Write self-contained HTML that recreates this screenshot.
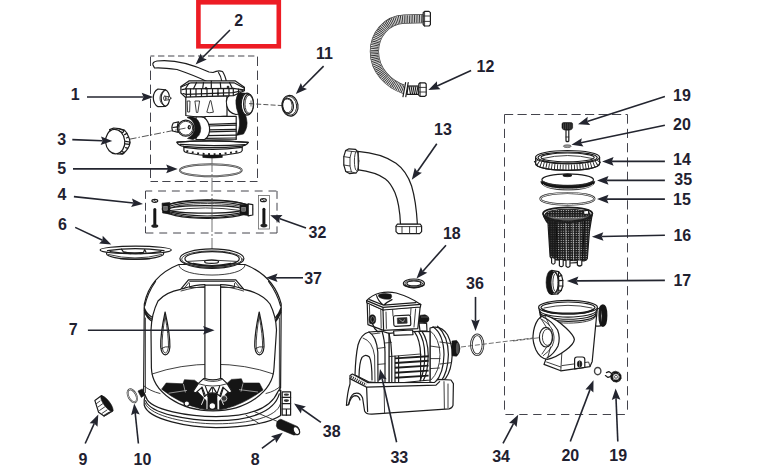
<!DOCTYPE html>
<html><head><meta charset="utf-8"><title>Parts diagram</title>
<style>
html,body{margin:0;padding:0;background:#fff;}
svg{display:block}
.lb{font-family:"Liberation Sans",sans-serif;font-weight:bold;font-size:16px;fill:#1f2130;}
.k{stroke:#1c1c1c;fill:none;stroke-width:1.2;stroke-linecap:round;stroke-linejoin:round}
.kw{stroke:#1c1c1c;fill:#fff;stroke-width:1.2;stroke-linecap:round;stroke-linejoin:round}
.t{stroke:#2a2a2a;fill:none;stroke-width:0.9;stroke-linecap:round;stroke-linejoin:round}
.tw{stroke:#2a2a2a;fill:#fff;stroke-width:0.9;stroke-linecap:round;stroke-linejoin:round}
.b{fill:#151515;stroke:#151515;stroke-width:0.6;stroke-linejoin:round}
.g{stroke:#777;fill:none;stroke-width:0.8}
</style></head>
<body>
<svg width="763" height="476" viewBox="0 0 763 476">
<rect width="763" height="476" fill="#fff"/>
<!-- ===== centre dash-dot axis (valve/tank) ===== -->
<path d="M212 158 V250" stroke="#505050" stroke-width="0.8" stroke-dasharray="14 2 2 2" fill="none"/>

<!-- ===== VALVE (parts 2) ===== -->
<g id="valve">
 <!-- handle -->
 <path class="kw" stroke-width="1.1" d="M153 65 Q152 62 157 61 C175 59 196 66 209 72 L213 72.5 Q218 70 222.5 71.5 Q225 75 226.5 82 L208 82 Q196 76 177 69.5 Q163 67.5 154.5 68 Z"/>
 <path class="k" d="M218.5 72.5 Q221 76 222 82"/>
 <!-- upper body -->
 <path class="kw" d="M185.8 96 V115.5 Q196 118 227 116 V96 Z"/>
 <path class="tw" stroke-width="0.9" d="M187.6 101 L190 101 L189.6 112 L188 112 Z M195.3 101 L199.6 101 L197.8 112.5 L196.8 112.5 Z M210 101 L206.8 112.2 Q208.5 113.3 213.4 112.2 L211 101 Z"/>
 <!-- right port body -->
 <path class="kw" d="M233 93.2 Q224.5 96 226.8 106 Q228.5 113 236 114.5 L246 113 L246 93.5 Z"/>
 <!-- S gasket -->
 <path class="b" d="M238 93.5 Q234.5 100 236.5 108 Q239 114.5 239.5 121 Q240 130 236 135.5 L243.5 134 Q248.5 127 246.5 118.5 Q244 110 242.5 103 Q242 97 244.5 93 Z"/>
 <!-- right port pipe end -->
 <ellipse class="kw" cx="247" cy="104.2" rx="5.8" ry="11"/>
 <ellipse class="kw" cx="248.6" cy="104.2" rx="5" ry="10" />
 <ellipse class="t" cx="249.2" cy="104.2" rx="4.2" ry="9" />
 <!-- lid -->
 <path class="kw" stroke-width="1.8" d="M188.9 80.9 L235.4 80.9 L244.4 87.2 L244.4 90.8 L233.5 95.6 L185.2 97.1 L180.9 93 L180.9 86.6 Z"/>
 <path class="k" stroke-width="1.4" d="M181 87 L191 82.8 L234 82.8 L244 88"/>
 <path class="k" stroke-width="1.9" d="M182 89.7 L186 88.9 L233 88.4 L244 89.8"/>
 <path class="k" stroke-width="1.3" d="M183 93.5 L186 94.3 L233 92.7 L243 90.5"/>
 <path class="k" stroke-width="1.2" d="M196.5 82.5 L193.5 88.7 M203.5 82.5 L202.7 88.5 M211.3 81 L211.3 88.5 M220.3 82.5 L220.8 88.5 M229.5 82.5 L232.3 88.3 M189 83 L185.5 88.7"/>
 <path class="k" stroke-width="1" d="M186.3 89 V96.8 M190.5 89 V96.6 M196 89 V96.4 M201.5 89 V96.2 M207 88.8 V96 M212.5 88.8 V95.9 M218 88.8 V95.8 M223.5 88.6 V95.7 M229 88.5 V95.6 M233.3 88.3 V95.5 M238.5 89 V93.4"/>
 <circle class="b" cx="206" cy="88.2" r="1"/><circle class="b" cx="228" cy="87" r="1"/><circle class="b" cx="218" cy="93.5" r="0.8"/>
 <!-- lower ribbed body -->
 <path class="kw" d="M205 116.5 L236.2 116.3 L236.2 139.5 L203 140 Z"/>
 <path class="k" stroke-width="1.2" d="M209 124.3 L236.2 123.3 M209 126 L236.2 125.1 M208.5 129.8 L236 129.3 M208.5 131.8 L236 131.2 M207 135.6 L236 135.2 M205 138.3 L236 138"/>
 <!-- front-left port -->
 <path class="kw" d="M200 117 Q207 116 209.5 127 Q210.5 136 204.5 139.5 L196 139.5 L196 117 Z"/>
 <path class="b" d="M190.5 116.6 Q199.5 117.5 200.8 128 Q200.8 137 193 139.6 L187.5 138.5 Q195 134 194.6 127.5 Q194 119.5 187 117.5 Z"/>
 <circle class="kw" cx="185.8" cy="128.2" r="8"/>
 <circle class="t" cx="185.8" cy="128.2" r="6.9"/>
 <path class="kw" d="M178.6 121.8 L173.3 123 Q171 126.5 172.6 131 L178.3 132.3 Q176.2 127 178.6 121.8 Z"/>
 <path class="k" d="M173 127.5 L177.5 126.9"/>
 <ellipse class="k" cx="189.3" cy="127.3" rx="1" ry="1.6"/>
 <!-- flange -->
 <path class="kw" stroke-width="1.1" d="M183.9 144 V150.6 Q184.4 152.2 188 153 Q212 158.2 238 153 Q241.6 152.2 242.2 150.6 V144 Z"/>
 <path class="kw" stroke-width="1.2" d="M176.8 142.2 Q212 139.4 248.4 142.4 Q246 145.8 240 146.4 Q212 148.8 184 146.4 Q178.6 145.8 176.8 142.2 Z"/>
 <path class="k" stroke-width="2.2" d="M177.2 142.2 Q212 139.6 248 142.4"/>
 <path class="k" stroke-width="1.2" d="M180 144.4 Q212 146.6 245 144.6"/>
 <path class="k" stroke-width="1.3" d="M184 147.4 Q212 151.4 242 147.4"/>
 <path d="M186.4 151 Q212 157.4 239.8 151" fill="none" stroke="#1c1c1c" stroke-width="2" stroke-dasharray="1.9 3.6" stroke-linecap="butt"/>
 <path class="b" d="M202.8 155.2 H222.3 V157.4 Q212 158.8 202.8 157.4 Z"/>
</g>

<!-- dashed lines from valve to parts 3, 11 -->
<path d="M129.6 139.2 L189 127.4" stroke="#2a2a2a" stroke-width="0.8" stroke-dasharray="7 2 1.5 2" fill="none"/>
<path d="M249 103.6 L282 105.6" stroke="#2a2a2a" stroke-width="0.8" stroke-dasharray="5 2.2" fill="none"/>
<path d="M251 100.5 V106.5" stroke="#333" stroke-width="0.7"/>

<!-- ===== part 1 plug ===== -->
<g id="p1">
 <path class="kw" stroke-width="1.1" d="M158 89 L165.5 89.8 Q169.5 92 169.5 98.2 Q169.5 104.6 165.3 106.4 L158 106.7 Q153.3 104 153.3 97.8 Q153.3 91.6 158 89 Z"/>
 <path class="k" stroke-width="1" d="M165.4 89.9 Q161.2 92 161.2 98.1 Q161.2 104 165.2 106.3"/>
 <path class="t" d="M164.6 90.4 Q160 93 160 98.1 Q160 103.4 164.4 105.9"/>
 <ellipse class="t" cx="164.8" cy="98.2" rx="1.2" ry="2.1"/>
 <path class="t" d="M164.8 96.1 L169 96.8 M164.8 100.3 L169 99.7"/>
 <circle class="tw" cx="169.5" cy="98.2" r="1.4"/>
</g>

<!-- ===== part 3 cap ===== -->
<g id="p3">
 <path class="kw" stroke-width="1.2" d="M109.6 129.6 L113.6 128 L119 128.6 L124.4 130 L126.8 133 L128.4 136.4 L129.6 139.6 L130 142.6 L129.2 146 L127.6 148.8 L125.4 151.6 L122 154.2 L117 153.8 Z"/>
 <path class="k" stroke-width="1" d="M112.6 128.6 L114 130.2 M119.6 129 L124.2 130.6 L122.6 132.8 L118.8 130.8 M126.8 133.4 L124.6 134.6 M128.6 137 L126.4 138 M125.6 141.4 L129.8 142 L129.4 144.4 L125.2 143.8 M127.8 148.4 L125.6 147.6 M122 151.6 L124.6 152.6 L122.8 154 L120.6 153.2"/>
 <ellipse class="kw" stroke-width="1.2" cx="115.2" cy="141.6" rx="9.6" ry="12.2" transform="rotate(-5 115.2 141.6)"/>
</g>

<!-- ===== part 5 o-ring ===== -->
<ellipse cx="210.8" cy="170.2" rx="31" ry="6" fill="none" stroke="#3c3c3c" stroke-width="1.9"/>
<ellipse cx="210.8" cy="170.2" rx="31" ry="6" fill="none" stroke="#fff" stroke-width="0.5"/>

<!-- ===== part 11 ring ===== -->
<g id="p11">
 <ellipse class="kw" cx="290" cy="105.8" rx="8" ry="10.4" transform="rotate(-8 290 105.8)"/>
 <ellipse class="t" cx="289.6" cy="105.8" rx="7" ry="9.4" transform="rotate(-8 289.6 105.8)"/>
 <ellipse class="k" cx="288" cy="105.8" rx="5.4" ry="7.6" transform="rotate(-8 288 105.8)"/>
 <path class="t" d="M283.6 100 Q288 97.5 291 101 Q293 105 291.6 110 Q289 114 285.6 112.6"/>
</g>

<!-- ===== clamp (4) + bolts (32) ===== -->
<g id="clamp">
 <ellipse class="kw" stroke-width="1.3" cx="207.4" cy="209.1" rx="45.2" ry="9.2"/>
 <path class="k" stroke-width="1.3" d="M163.6 208.6 C166 197.6 249 197.6 251.4 208.6"/>
 <path class="k" stroke-width="1.2" d="M165.4 209.2 C169 199.6 246 199.6 249.6 209.2"/>
 <path class="t" d="M167 209.8 C172 201.4 243 201.4 248 209.8"/>
 <ellipse class="kw" stroke-width="1.2" cx="205.6" cy="209.4" rx="36.4" ry="3.8"/>
 <path class="t" stroke-width="0.7" d="M171 210.4 Q205.6 205.4 240 210.4"/>
 <path class="k" stroke-width="1" d="M167 211.4 Q207 220.6 248 211.4"/>
 <path class="k" stroke-width="1.2" d="M165 212 Q207 223.4 250 212"/>
 <path class="b" d="M162 203.2 L169.8 202.4 L169.8 214 L162.6 213 Z"/>
 <rect x="163.8" y="206.6" width="3.4" height="3.6" fill="#666" stroke="#bbb" stroke-width="0.5"/>
 <path class="b" d="M240 204.8 L248.4 204 L248.4 215.6 L240 214.4 Z"/>
 <rect x="241.8" y="207.4" width="3.6" height="3.8" fill="#666" stroke="#bbb" stroke-width="0.5"/>
 <path class="kw" stroke-width="1.2" d="M248.2 203.8 L252.8 204.6 L252.8 215 L248.2 215.8 Z"/>
 <path d="M212 198.6 V219.6" stroke="#505050" stroke-width="0.8" fill="none"/>
 <!-- bolts -->
 <path d="M154.8 209.6 V225" stroke="#151515" stroke-width="3" stroke-linecap="round"/>
 <ellipse cx="154.8" cy="226" rx="3.5" ry="1.8" fill="#222"/>
 <ellipse class="kw" stroke-width="0.9" cx="154.8" cy="200.8" rx="2.9" ry="1.5"/>
 <path class="t" d="M153.6 200 L156 201.6"/>
 <path d="M263.9 209.2 V224.6" stroke="#151515" stroke-width="3" stroke-linecap="round"/>
 <ellipse cx="263.9" cy="225.6" rx="3.5" ry="1.8" fill="#222"/>
 <ellipse class="kw" stroke-width="0.9" cx="263.4" cy="200.2" rx="2.9" ry="1.5"/>
 <path class="t" d="M262.2 199.4 L264.6 201"/>
</g>

<!-- ===== disc (6) ===== -->
<g id="disc6">
 <ellipse class="kw" stroke-width="1.2" cx="135.1" cy="253.6" rx="28.6" ry="5.6"/>
 <path class="t" d="M108.5 254.5 Q135 261.5 161.5 254.5"/>
 <path class="k" stroke-width="1.3" d="M120 258.6 Q135 260.2 150 258.6"/>
 <ellipse class="kw" stroke-width="1.5" cx="135.7" cy="250" rx="35.6" ry="3.9"/>
 <path class="k" stroke-width="1.1" d="M107.5 250.6 Q135 246.6 164 250.6 M110 251.6 Q120 253.3 131 253.6 M140 253.6 Q152 253.3 161 251.6"/>
 <path class="k" stroke-width="1.2" d="M121.4 249.2 L123.4 251.8 Q133 254 143.5 252.4 L144.6 249.6 L146 252.2"/>
 <path class="k" stroke-width="1.6" d="M124 252.3 Q133 253.8 142 252.6"/>
</g>

<!-- ===== TANK (37) ===== -->
<g id="tank">
 <!-- base -->
 <path class="kw" stroke-width="1.1" d="M144.2 400 L144.2 405 C148 420 190 427.6 216 427.6 C250 427.6 272 421.4 280.6 415.4 L280.6 390 L146 392 Z"/>
 <path class="t" d="M145 403 C150 417 190 423.8 216 423.8 C250 423.8 277 417 280.4 404"/>
 <path class="k" stroke-width="1" d="M145.6 400.6 C150 414 190 420.6 216 420.6 C248 420.6 274 413 279.3 393.9"/>
 <path class="k" stroke-width="1" d="M280.6 390 V415.4"/>
 <path class="t" d="M235.2 403.4 L278 421.7 M246 415.2 L259 423.5"/>
 <!-- outer body -->
 <path class="kw" d="M178.8 264.5 Q150 276 144.3 304 L143.6 392 L146.4 398 C150 410 190 416.6 216 416.6 C245 416.6 270 410 278 391.4 L280.6 388 L281.2 304 Q274 276 245 264.5 Z"/>
 <path class="t" d="M145.4 318 V392.5"/>
 <path class="t" d="M279.4 318 V391"/>
 <!-- shoulder ellipse -->
 <path class="t" d="M178.8 264.8 C179 278.6 245 278.6 245.1 264.8"/>
 <!-- cutaway inner outline -->
 <path class="kw" d="M180.6 289.4 L188.5 279.8 H235.8 L243.8 289.4 Q262 293 270 304 Q276 316 276.5 330 L274 368 C273 392 246 410.8 213 410.8 C180 410.8 152 392 151.4 368 L151 330 Q151.5 314 158 301 Q166 292 180.6 289.4 Z"/>
 <path class="t" d="M183.6 289 L189.8 281.4 H234.5 L240.8 289"/>
 <path class="k" d="M181.8 288.8 Q196 284.6 204.9 284.6 M220.5 284.6 Q230 284.6 242.9 288.8"/>
 <path class="t" d="M181 291 Q196 286.8 204.9 286.6 M220.5 286.6 Q230 286.8 243.6 291"/>
 <path class="t" d="M189.5 283.5 V287.5 H204.9 M220.5 287.5 H234.5 V283.5"/>
 <!-- cut edge bands -->
 <path class="k" d="M144.3 308 Q147 314.5 152.5 317.5 M144.3 310 Q147 316.5 152 319.3 M144.5 312 Q147 318 151.6 321"/>
 <path class="k" d="M281 308 Q278.5 314.5 275.6 317.5 M281 310 Q278.5 316.5 276 319.3 M281 312 Q278.5 318 276.2 321"/>
 <path class="k" stroke-width="1.5" d="M155.5 281.5 Q147.5 293 144.8 306 M268.6 281.5 Q277 293 280.6 306"/>
 <!-- slots -->
 <path class="kw" stroke-width="1" d="M165.1 312 Q160.2 335 160.7 347 Q161.6 354.6 165.3 354.9 Q169.2 354.6 169.9 347 Q170.2 335 165.1 312 Z"/>
 <path class="t" stroke-width="0.8" d="M165.1 316 Q161.8 336 162.1 347 Q162.8 352.8 165.3 353 Q167.9 352.8 168.5 347 Q168.7 336 165.1 316"/>
 <path class="t" stroke-width="0.8" d="M161.2 348.6 Q165.0 346 169.5 346.8"/>
 <path class="kw" stroke-width="1" d="M259.2 312 Q254.3 335 254.8 347 Q255.7 354.6 259.4 354.9 Q263.3 354.6 264.0 347 Q264.3 335 259.2 312 Z"/>
 <path class="t" stroke-width="0.8" d="M259.2 316 Q255.9 336 256.2 347 Q256.9 352.8 259.4 353 Q262.0 352.8 262.6 347 Q262.8 336 259.2 316"/>
 <path class="t" stroke-width="0.8" d="M255.3 348.6 Q259.1 346 263.6 346.8"/>
 <!-- water line -->
 <path class="t" d="M152 374 Q180 364.2 212.9 364.2 Q246 364.2 273.6 374"/>
 <path class="t" d="M144 386 Q150 391 160 393.5 M280.5 386 Q276 391 266 393.5"/>
 <!-- laterals (black) -->
 <g class="b">
  <path d="M166.2 383 L183 383.8 L184.4 379.7 L194.6 380.2 L199.4 384 L197 391 L202 396 L206.5 401 L206.5 409.6 L200 408.6 Q180 403.6 161.6 389.2 Z"/>
  <path d="M259.4 383 L243 383 L241.4 378.8 L231.4 379.4 L226.4 384 L228.6 391 L224 396 L219.4 401 L219.4 409.6 L226 408.6 Q244 404 263 390 Z"/>
  <path d="M207.6 394 Q212.3 391.6 217 394 L217.6 409.4 L207 409.4 Z"/>
 </g>
 <!-- hub cone + spokes (white) -->
 <path class="kw" stroke-width="1" d="M203.6 378.6 L198.4 383.4 L193 391.6 L195.6 393 L201.6 387.6 L204.4 396.6 L207.6 394 Q212.3 391.8 217 394 L220.6 396.6 L223.4 387.6 L229.4 393 L232 391.6 L227 383.4 L222 378.6 Z"/>
 <path class="t" d="M198.6 383.8 Q212.9 388.4 227 383.8 M212.5 387.2 V392.4"/>
 <path class="k" stroke-width="1" d="M202 387 L205.4 395.6 M223 387 L219.8 395.6 M205.4 386.4 L208 393.6 L211.6 387.6 M219.6 386.4 L217 393.6 L213.4 387.6"/>
 <path d="M204.6 397.4 L201.4 404.8 M220.6 397.4 L223.6 404.8 M207 397 L207 409 M218 397 L218 409" stroke="#fff" stroke-width="0.9" fill="none"/>
 <path d="M183.4 384 L185.4 392.4 M168.6 393.2 L187 390.4 M243 383.4 L241 391.6 M258 392 L239 389.6" stroke="#e8e8e8" stroke-width="0.6" fill="none"/>
 <path class="t" d="M200 408.4 Q212.6 412.2 226 408.4"/>
 <circle class="kw" stroke-width="0.8" cx="186.8" cy="403.6" r="2.7"/>
 <circle class="kw" stroke-width="0.8" cx="212.3" cy="406" r="3.3"/>
 <circle cx="224" cy="398.4" r="2.9" fill="#3a3a3a" stroke="#ddd" stroke-width="0.8"/>
 <!-- standpipe -->
 <path class="kw" stroke-width="1.2" d="M204.9 285.2 V378.5 Q212.9 381.4 220.6 378.5 V285.2 Z"/>
 <path class="t" d="M203.6 379.6 Q212.9 383.4 222 379.6"/>
 <!-- neck rim -->
 <ellipse class="kw" stroke-width="1.1" cx="211.9" cy="258.6" rx="32" ry="9.7"/>
 <ellipse class="t" stroke-width="0.7" cx="211.9" cy="259.2" rx="30.2" ry="8.3"/>
 <ellipse class="k" stroke-width="0.9" cx="212.1" cy="258.8" rx="27.2" ry="7.2"/>
 <path class="t" stroke-width="0.7" d="M187.5 261.4 Q212 258.6 236.8 261.4"/>
 <path class="k" stroke-width="1.2" d="M188.2 263 Q212 270 236 263"/>
 <path class="k" stroke-width="1.5" d="M193 263.4 Q212 267.6 231 263.4"/>
 <path class="t" stroke-width="0.8" d="M184 263 Q212 272.6 240 263"/>
 <ellipse class="kw" stroke-width="0.8" cx="211.6" cy="261.7" rx="7" ry="1.6"/>
 <!-- drain stub left -->
 <path class="b" d="M138 391 L142.4 388.9 L145 395 L141.3 397.4 Z"/>
</g>

<!-- part 38 bracket -->
<g id="p38">
 <path class="kw" stroke-width="1.1" d="M282.2 391.8 H290.6 V415.2 H282.2 Z"/>
 <path class="k" stroke-width="1" d="M282.2 397.4 H290.6 M282.2 403.6 H290.6 M282.2 409 H290.6 M286.4 409 V415.2"/>
 <ellipse cx="286.4" cy="394.6" rx="2.6" ry="1.2" fill="#333"/>
 <ellipse cx="286.4" cy="400.6" rx="2.6" ry="1.3" fill="#333"/>
</g>
<!-- part 8 -->
<g id="p8">
 <path class="b" d="M280.8 419.2 L297.2 426.4 Q300.4 429 299.2 432.6 Q297.4 435.6 293.6 435 L277.6 428.4 Q275.6 425.8 276.8 422.6 Q278 419.6 280.8 419.2 Z"/>
 <ellipse class="kw" stroke-width="0.9" cx="296.4" cy="430.6" rx="2.8" ry="4.2" transform="rotate(-25 296.4 430.6)"/>
</g>

<!-- ===== part 9 cap ===== -->
<g id="p9">
 <path class="kw" stroke-width="1.1" d="M94.9 400.6 L101.6 395.6 L112.8 410.6 L104 416 L98.6 412.2 Z"/>
 <path class="t" d="M96.4 403.6 L100 401 M98 407 L102.6 403.8 M99.6 410.4 L104.6 407 M102 413.4 L107 410 M104.4 415 L109 412.2"/>
 <ellipse class="b" cx="106.9" cy="403.6" rx="9.4" ry="3" transform="rotate(53 106.9 403.6)"/>
 <path class="t" d="M112.8 411.2 L104 416.4"/>
</g>
<!-- ===== part 10 o-ring ===== -->
<ellipse cx="132.3" cy="395.8" rx="3.9" ry="7" transform="rotate(-27 132.3 395.8)" fill="none" stroke="#333" stroke-width="1.9"/>
<ellipse cx="132.3" cy="395.8" rx="3.9" ry="7" transform="rotate(-27 132.3 395.8)" fill="none" stroke="#fff" stroke-width="0.6"/>

<!-- ===== hose (12) ===== -->
<g id="hose">
 <path id="hosec" d="M423.5 18.7 L404 19.2 C386 20 374.4 35 374.4 51.5 C374.4 70 388 84 404.6 89.6" fill="none" stroke="#3a3a3a" stroke-width="9.2"/>
 <path d="M423.5 18.7 L404 19.2 C386 20 374.4 35 374.4 51.5 C374.4 70 388 84 404.6 89.6" fill="none" stroke="#fff" stroke-width="7.8"/>
 <path d="M423.5 18.7 L404 19.2 C386 20 374.4 35 374.4 51.5 C374.4 70 388 84 404.6 89.6" fill="none" stroke="#3a3a3a" stroke-width="7.8" stroke-dasharray="1 0.7"/>
 <!-- top nut -->
 <path class="kw" stroke-width="1" d="M423.2 12.6 L424.6 11.4 H429 L430.4 12.6 V24.6 L429 26 H424.6 L423.2 24.6 Z"/>
 <path class="t" d="M423.2 16 H430.4 M423.2 21.4 H430.4 M424.6 11.4 V26"/>
 <!-- break marks -->
 <path d="M404.6 83 L402.4 96.6 L409 96.6 L411 83 Z" fill="#fff"/>
 <path class="k" stroke-width="1" d="M405.6 82.6 L403 96.6 M408.2 82.6 L405.8 96.6"/>
 <!-- thread -->
 <path class="kw" stroke-width="0.9" d="M408 86 H419 V94.4 H407 Z"/>
 <path class="k" stroke-width="1" d="M409 86 L410.6 94.4 M411 86 L412.6 94.4 M413 86 L414.6 94.4 M415 86 L416.6 94.4 M417 86 L418.6 94.4"/>
 <!-- bottom nut -->
 <path class="kw" stroke-width="1" d="M418.8 84 L420.2 82.8 H424.8 L426.2 84 V95.2 L424.8 96.4 H420.2 L418.8 95.2 Z"/>
 <path class="t" d="M418.8 87.4 H426.2 M418.8 92 H426.2 M420.2 82.8 V96.4"/>
</g>

<!-- ===== elbow (13) ===== -->
<g id="elbow">
 <path class="kw" stroke-width="1" d="M357.8 151.4 C372 152.5 386 156.5 396 163.2 C404 169 408.6 176.8 411.6 186 C414.6 196 416.6 210 417.4 224.4 L400.5 224.4 C400 212 398 200 394.9 192.5 C392 186 389 181.6 385.4 178.9 C379 174.2 368 171 357 169.6 Z"/>
 <!-- left nut -->
 <path class="kw" stroke-width="1" d="M345.6 150.6 L349 148.8 L355.6 149.4 L358 152 L358.4 170 L356 173 L349.4 173.6 L345.8 171.6 L343.8 165 L343.8 156.6 Z"/>
 <path class="t" d="M345.6 150.6 L351.6 151.4 L358 152 M343.8 156.6 L350 157.6 L351.6 151.4 M343.8 165 L350 166 L350 157.6 M345.8 171.6 L351.4 172 L350 166 M351.4 172 L356 173"/>
 <ellipse class="t" cx="356.6" cy="161" rx="2.2" ry="9.6"/>
 <!-- bottom nut -->
 <path class="kw" stroke-width="1" d="M397.4 224.2 H420.2 L421.6 226 V231.6 L419.6 233.6 H398 L396 231.6 V226 Z"/>
 <path class="t" d="M396 226.6 H421.6 M402 226.6 V233.6 M409.6 226.6 V233.6 M416.4 226.6 V233.6"/>
</g>

<!-- ===== washer (18) ===== -->
<g id="p18">
 <ellipse class="kw" stroke-width="1.1" cx="413.9" cy="283.4" rx="10.5" ry="4.4"/>
 <ellipse class="t" cx="413.9" cy="283.6" rx="8.8" ry="3.4"/>
 <ellipse class="k" stroke-width="1.2" cx="413.9" cy="283.4" rx="7" ry="2.4"/>
 <path class="k" stroke-width="1.1" d="M404 285 Q414 290.4 424 285"/>
</g>

<!-- ===== o-ring (36) ===== -->
<ellipse cx="477.2" cy="344.8" rx="5.8" ry="10" fill="none" stroke="#2e2e2e" stroke-width="2.6"/>
<ellipse cx="477.2" cy="344.8" rx="5.8" ry="10" fill="none" stroke="#fff" stroke-width="0.9"/>
<!-- axis motor -> pump -->
<path d="M461 347 L552 335.6" stroke="#333" stroke-width="0.7" stroke-dasharray="5 2" fill="none"/>

<!-- ===== MOTOR (33) ===== -->
<g id="motor">
 <!-- right flange -->
 <path class="kw" stroke-width="1.1" d="M430 328 Q441 324.6 447.6 335 Q452.4 345 452.2 355 Q451.6 370 445.6 378.4 Q440 384 430 382 Z"/>
 <path class="k" stroke-width="1" d="M433 326.8 Q443.6 334 444 354.6 Q443.6 374 435 382.6 M437.6 326.2 Q448.2 336 448.4 354.6 Q448 372.6 440.6 382"/>
 <path class="t" d="M430 330.6 Q439.6 338 440 354.6 Q439.6 372 431 380"/>
 <path class="t" d="M440 342 L451.2 343.6 M440 364 L451.6 362.6 M430 346 L440 347.4 M430 358.6 L440 358.6 M430 368.6 L439.4 368"/>
 <path class="b" d="M452 341 L456.6 340.4 Q459.9 343.6 459.9 348.4 Q459.9 353.4 456.6 356.2 L452 355.8 Z"/>
 <ellipse cx="457.4" cy="348.4" rx="1.5" ry="5.6" fill="#555"/>
 <!-- cable gland -->
 <path class="b" d="M419 315.4 L425 314.8 Q429 316 429 319 Q429 322 425 323 L419 322.6 Z"/>
 <path d="M421 317 H428" stroke="#999" stroke-width="0.5"/>
 <path class="kw" stroke-width="0.9" d="M419 323 L426.6 323.4 L427 331 L420 331 Z"/>
 <!-- motor body -->
 <path class="kw" stroke-width="1" d="M388.8 333.4 Q410 330.6 430 331.6 L430 380 L388.8 384 Z"/>
 <path class="k" stroke-width="1" d="M418.6 331.4 Q424.6 340 424.8 355 Q424.6 372 420 380.6 M422 331.4 Q428 340 428.2 355 Q428 372 423.4 380.4 M414.4 331.6 Q420.4 340 420.6 355"/>
 <path class="t" d="M388.8 356.6 L420.6 354"/>
 <!-- fins -->
 <path d="M395 358.4 L428.6 356.2 M395 363 L428.6 360.8 M395 367.8 L428.6 365.6 M395 372.8 L428.6 370.6 M395 377.8 L428.6 375.6" stroke="#1c1c1c" stroke-width="1.9" fill="none"/>
 <path class="k" stroke-width="1" d="M395 356 V383 M398.6 356 V382.8 M420.6 354 V380.6"/>
 <!-- fan cover -->
 <path class="kw" stroke-width="1.1" d="M355 375 Q355.6 356 358 345 Q361 334 369 332 L382 331.2 L389 333.4 L389 384 L368.6 381.8 Z"/>
 <path class="k" stroke-width="1" d="M369 332 Q376.4 336 377.8 352 L378 383 M382 331.2 Q384.8 340 385 352 L385 383.6 M389 333.4 Q391.6 344 391.8 356 L391.8 383.6"/>
 <path class="t" d="M377.8 348.4 L385 347.4 M378 364.4 L385 363.8 M385 343 L391.4 342.4 M372 334 L380 333 M363 338 Q372.6 341 374.6 356 L375 382.6"/>
 <path class="k" stroke-width="1" d="M359 376.4 Q359.4 362 362 357.4 Q365.6 353.4 369.4 357 Q372 361.6 372 380"/>
 <!-- control box -->
 <path class="kw" stroke-width="1.1" d="M367.2 302.6 L383 309.6 L420.2 306.6 L417.8 328.6 L383.6 330.4 L367.9 324.6 Z"/>
 <path class="k" stroke-width="1.1" d="M383 309.6 L383.6 330.4"/>
 <path class="t" d="M369.4 305.4 L370 323.6 M380.8 310 L381.2 328 M392.6 309.4 L393 316 M411 308 L410.6 314.6 M386 312 L386.4 328.4 M415.6 309 L414 327"/>
 <path class="kw" stroke-width="0.9" d="M393.6 331 L412.6 330 L413 334.6 L394 335.4 Z"/>
 <!-- lid -->
 <path class="kw" stroke-width="1.2" d="M366.6 300.6 Q372 295 379.8 293 Q388 291.4 396.2 293 Q410 297 420.8 304.4 L420.4 307 L383 310 L366.8 302.8 Z"/>
 <path class="k" stroke-width="1" d="M366.6 300.6 L383 307.4 L420.8 304.4 M383 307.4 V310 M369.6 299.6 L383.6 305.2 L416 302.6 M376.6 295.6 Q378 301 383.6 305.2 M392 299.6 Q387 302 383.6 305.2"/>
 <path class="b" d="M378.8 294.4 Q384 292.6 391 294.2 Q392.6 296.6 390.4 299 Q384 300 379.6 297.6 Q377.6 296 378.8 294.4 Z"/>
 <!-- switch -->
 <rect x="393.6" y="315.4" width="17" height="10.6" rx="1.6" class="kw" stroke-width="1.6" transform="rotate(-3 402 320)"/>
 <rect x="397.4" y="317.8" width="9.6" height="5.6" fill="#2a2a2a" stroke="#2a2a2a" stroke-width="0.6" transform="rotate(-3 402 320)"/>
 <path d="M399.4 319.4 L403 322 L404.6 319.4" stroke="#ddd" stroke-width="0.6" fill="none"/>
 <!-- connector -->
 <ellipse class="b" cx="372.4" cy="319.4" rx="3.3" ry="4.6"/>
 <ellipse cx="372.6" cy="319.4" rx="1.8" ry="2.9" fill="none" stroke="#aaa" stroke-width="0.6"/>
 <path class="k" stroke-width="1.6" d="M372.6 324 Q374 329 378 332"/>
 <!-- motor base (front) -->
 <path class="kw" stroke-width="1.1" d="M350 375.6 L352.4 374 L368 382.6 L434.6 382.4 L438 379.4 L451 380 L453.4 383.6 L453 405.4 Q452 408.4 449 408.8 L372 414.2 Q366 414.4 364.6 411 L362.6 398 Q360 391.6 354 393.6 Q350 396 348.6 404.6 L346.4 405.4 Q347.4 392 350 384 Z"/>
 <path class="k" stroke-width="1" d="M350 378.6 L366.6 387.2 L367.6 411.6 M366.6 387.2 L436 385.2 L439.6 381.6 M348.6 404.6 Q351 396 355 395.6 Q359 395.6 360 400"/>
 <path class="t" d="M384 385.6 L384.6 413.2 M444 381.6 L444.4 408.6 M448 384 V408"/>
 <path d="M351 376.8 L366 385" stroke="#222" stroke-width="3" stroke-dasharray="1 1.1" fill="none"/>
</g>

<!-- ===== pump stack ===== -->
<g id="p19top">
 <path class="b" d="M562 124 Q562 122.6 564 122.6 H570.6 Q572.6 122.6 572.6 124 V127.6 Q572.6 129.6 570 130 H564.6 Q562 129.6 562 127.6 Z"/>
 <path d="M563.6 123.4 V129 M565.4 123.2 V129.4 M567.3 123.2 V129.4 M569.2 123.2 V129.4 M571 123.4 V129" stroke="#777" stroke-width="0.5"/>
 <path class="kw" stroke-width="0.9" d="M566 130 H568.8 V141 Q567.4 142.4 566 141 Z"/>
 <path class="t" d="M566 137 H568.8"/>
</g>
<ellipse cx="567.3" cy="146.2" rx="3.9" ry="1.4" fill="#999" stroke="#555" stroke-width="0.7"/>

<g id="p14">
 <path class="kw" stroke-width="1.1" d="M535.6 157.2 V163.6 C535.6 172.6 599.6 172.6 599.6 163.6 V157.2 Z"/>
 <ellipse class="kw" stroke-width="1.2" cx="567.6" cy="157.2" rx="32" ry="6.7"/>
 <ellipse class="k" stroke-width="1" cx="567.6" cy="157.6" rx="29.6" ry="5.6"/>
 <ellipse class="k" stroke-width="1.3" cx="567.6" cy="157.4" rx="26.6" ry="4.4"/>
 <path class="t" d="M542 158.6 Q567.6 152.4 593 158.6"/>
 <path d="M536.4 160.4 C539 169.6 596 169.6 598.8 160.4" fill="none" stroke="#222" stroke-width="5.4" stroke-dasharray="0.9 1.9"/>
 <path class="k" stroke-width="1" d="M535.6 163.6 C535.6 172.6 599.6 172.6 599.6 163.6"/>
</g>

<g id="p35">
 <path class="b" d="M540.8 181.4 C540.8 193 594.8 193 594.8 181.4 Z"/>
 <path d="M543 184.4 C548 190.6 588 190.6 593 184.4" fill="none" stroke="#fff" stroke-width="0.8"/>
 <ellipse class="kw" stroke-width="1" cx="567.7" cy="179.8" rx="25.8" ry="5.9"/>
 <path class="t" stroke-width="0.7" d="M544 181.6 C550 186.6 585 186.6 591.4 181.6"/>
 <ellipse class="b" cx="567.4" cy="175.4" rx="4.6" ry="1.3"/>
</g>

<g id="p15">
 <ellipse cx="567.4" cy="198.8" rx="27" ry="5.8" fill="none" stroke="#2c2c2c" stroke-width="2.2"/>
 <ellipse cx="567.4" cy="198.8" rx="27" ry="5.8" fill="none" stroke="#fff" stroke-width="0.8"/>
</g>

<!-- ===== basket (16) ===== -->
<defs>
 <pattern id="mesh" width="2.5" height="2.3" patternUnits="userSpaceOnUse">
  <rect width="2.5" height="2.3" fill="#1d1d1d"/>
  <rect x="0.7" y="0.7" width="0.95" height="0.8" fill="#f0f0f0"/>
 </pattern>
</defs>
<g id="basket">
 <path d="M543 213.7 Q544.6 220 548 223.4 L550.1 256.6 Q552 259.6 556 260 L584 261 Q586.8 260.6 587.3 258.7 L589.4 231.6 L592.3 213.7 C592.3 223.4 543 223.4 543 213.7 Z" fill="url(#mesh)" stroke="#1c1c1c" stroke-width="1.2"/>
 <path d="M544 214 Q545.4 220 548.6 223.4 L550.6 256 L557 258 L555 222 Q548 220 544 214 Z" fill="#1a1a1a" opacity="0.75"/>
 <path d="M565.6 222.6 L566.6 260 M573 222.4 L573.6 260.4 M579.4 221.6 L579.4 260.6" stroke="#fff" stroke-width="0.7" opacity="0.6" fill="none"/>
 <path d="M556 221 L557.6 259 M584.6 220 L582.4 260.4" stroke="#111" stroke-width="1.2" fill="none"/>
 <!-- rim -->
 <ellipse cx="567.7" cy="213.6" rx="24.7" ry="6.3" fill="#fff" stroke="#1c1c1c" stroke-width="1.8"/>
 <ellipse cx="567.7" cy="214.2" rx="22.6" ry="5" fill="url(#mesh)" stroke="#1c1c1c" stroke-width="0.9"/>
 <path d="M547 216 C552 221.6 584 221.6 589 216 C584 217.4 552 217.4 547 216 Z" fill="#fff" opacity="0.3"/>
 <path class="k" stroke-width="1.4" d="M543.4 215.6 C546 224.6 590 224.6 592 215.6"/>
 <!-- handle -->
 <path class="kw" stroke-width="0.9" d="M583.4 211 L588.4 210.2 L588.8 214 L584 214.6 Z"/>
 <!-- feet -->
 <path class="kw" stroke-width="1.1" d="M551.6 257.6 V263 Q553.3 265.4 555 263 V259.4 M559.4 260 V265.6 Q561.3 267.8 563.2 265.6 V260.2 M566 260.4 V266.2 Q568 268.4 570 266.2 V260.6 M577.4 260.6 V265 Q579.6 267 581.8 265 V260.8"/>
 <path class="k" stroke-width="1" d="M570.4 263 L577 262.6"/>
</g>

<!-- ===== nut (17) ===== -->
<g id="p17">
 <path class="kw" stroke-width="1.1" d="M551.6 270.4 L558.6 271.6 L561.6 275.4 L562.8 280.3 L562.8 286 L561.2 290.5 L557.8 293.9 L551.6 294.4 Z"/>
 <ellipse class="b" cx="551" cy="282.4" rx="4.9" ry="12"/>
 <ellipse class="kw" stroke-width="1" cx="554.6" cy="282.5" rx="3.7" ry="10.6"/>
 <ellipse class="t" cx="555.6" cy="282.5" rx="2.7" ry="9"/>
 <path class="k" stroke-width="1" d="M558.6 271.6 L558.4 276.6 L558.8 280.6 L558.8 286 L558.2 290 L557.8 293.9 M558.8 280.6 L562.8 280.3 M558.8 286 L562.8 286 M558.4 276.6 L561.6 275.4 M558.2 290 L561.2 290.5"/>
</g>

<!-- ===== pump housing (34) ===== -->
<g id="housing">
 <!-- outlet port -->
 <path class="kw" stroke-width="1" d="M594 310.6 Q599 309 601.6 306.6 L603 325 Q599 327 595 325.6 Z"/>
 <ellipse cx="602.9" cy="315.6" rx="3.2" ry="10" fill="#fff" stroke="#1c1c1c" stroke-width="2.6"/>
 <path class="b" d="M600 306.4 Q603 304.6 605.4 307 Q607.4 315 605.6 324 Q603.6 327 600.4 325.4 Q603.6 316 600 306.4 Z"/>
 <!-- body -->
 <path class="kw" stroke-width="1.1" d="M538.8 307.4 L540.6 317 L546 359 L544 364.4 L560.8 370.8 L590 366.6 L592.2 361.4 L597.4 307.4 Z"/>
 <path class="t" d="M560.8 370.8 L562 350 M590 366.6 L588.6 362 L562 365.6 M546.6 362 L560.8 367"/>
 <!-- threads -->
 <path class="k" stroke-width="1.5" d="M539.4 310 C541 319.4 595 319.4 596.8 310 M539.8 312.2 C542 321.6 594.6 321.6 596.4 312.2 M540.4 314.6 C543 323.6 594 323.6 596 314.6"/>
 <path class="t" d="M541 316.6 C544 325.4 593 325.4 595.6 316.6"/>
 <!-- rim -->
 <ellipse class="kw" stroke-width="1.2" cx="568" cy="307.2" rx="29.4" ry="6.8"/>
 <ellipse class="k" stroke-width="1" cx="568" cy="307.6" rx="27" ry="5.6"/>
 <path class="k" stroke-width="1.6" d="M542.6 309 C548 315.6 588 315.6 593.4 309"/>
 <path class="t" d="M544 308 Q568 302.6 592 308"/>
 <!-- volute face -->
 <path class="kw" stroke-width="1.1" d="M546 315.4 Q556 318.6 566 328 Q574 335.6 574.4 339.4 Q574 344 566 350 Q556 357.6 547.4 359.4 Q540 358.6 536 350 Q532.6 342 533 336 Q533.6 326 538 319.6 Q541.6 315.6 546 315.4 Z"/>
 <path class="k" stroke-width="1" d="M543 317 Q552 321 557.6 330 Q560.6 338 558 346 Q554 354 547 358"/>
 <path class="t" d="M540 318.4 Q548 322 552.6 330 M552.6 345.4 Q549 352 543.4 355.6 M545 316 L549.6 325.6 M541.6 319.6 L546.6 327.6 M546.4 347.4 L542 354 M550.6 347 L548 356.6"/>
 <ellipse class="kw" stroke-width="1" cx="546" cy="337.2" rx="6.6" ry="9.8"/>
 <ellipse class="t" cx="547.4" cy="337.2" rx="5" ry="8.2"/>
 <path class="t" d="M552 329.6 Q556 337.2 552.6 345"/>
 <!-- drain -->
 <path class="kw" stroke-width="0.9" d="M574.6 359.6 Q574.6 357 577 357 H582.4 Q584.8 357 584.8 359.6 V367.4 L574.6 368.8 Z"/>
 <ellipse class="b" cx="579.6" cy="364" rx="2.3" ry="3.2"/>
 <path d="M579.6 361 V367" stroke="#bbb" stroke-width="0.6"/>
</g>
<path d="M513 341 L540 337.6" stroke="#333" stroke-width="0.7" stroke-dasharray="5 2" fill="none"/>

<!-- small o-ring 20 bottom -->
<ellipse cx="597.7" cy="371.1" rx="3.2" ry="3.6" fill="none" stroke="#444" stroke-width="1.4"/>
<!-- knob 19 bottom -->
<g id="p19b">
 <path class="k" stroke-width="1.7" d="M606.4 372.6 L608.8 371.6 L611.6 373.6 M605.4 375.6 L608 377.4 L611 376.4"/>
 <path class="b" d="M612.6 372 L615.6 371.2 L619 372.4 L621 375 L621.2 378.4 L619.6 381 L616.6 382.2 L613.2 381.4 L611 379 L610.6 375.4 Z"/>
 <circle cx="616" cy="376.8" r="2.9" fill="#fff" stroke="#888" stroke-width="0.6"/>
 <circle cx="616" cy="376.8" r="1.5" fill="none" stroke="#333" stroke-width="0.8"/>
 <path d="M613 373.4 L613.8 374.2 M618.6 373.4 L618 374.2 M620 377 L619 377 M613 380 L613.8 379.4 M618.6 380.4 L618 379.6" stroke="#ddd" stroke-width="0.6"/>
</g>

<rect x="198.4" y="2.3" width="80.4" height="44" fill="none" stroke="#ed1c24" stroke-width="4.6"/>
<line x1="150.5" y1="56.0" x2="257.5" y2="56.0" stroke="#44444c" stroke-width="1" stroke-dasharray="6.4 3.6" stroke-dashoffset="2.5"/>
<line x1="150.5" y1="181.5" x2="257.5" y2="181.5" stroke="#44444c" stroke-width="1" stroke-dasharray="8.2 4.3" stroke-dashoffset="0.7"/>
<line x1="150.5" y1="56" x2="150.5" y2="181.5" stroke="#44444c" stroke-width="1" stroke-dasharray="9.4 4.6" stroke-dashoffset="-0.6"/>
<line x1="257.5" y1="56" x2="257.5" y2="181.5" stroke="#44444c" stroke-width="1" stroke-dasharray="9.4 4.6" stroke-dashoffset="-0.6"/>
<line x1="145.5" y1="191.0" x2="277" y2="191.0" stroke="#44444c" stroke-width="1" stroke-dasharray="7.9 5.9" stroke-dashoffset="1.2"/>
<line x1="145.5" y1="233.0" x2="277" y2="233.0" stroke="#44444c" stroke-width="1" stroke-dasharray="7.9 5.9" stroke-dashoffset="0"/>
<line x1="145.5" y1="191" x2="145.5" y2="233" stroke="#44444c" stroke-width="1" stroke-dasharray="7.9 3.9" stroke-dashoffset="0"/>
<line x1="277" y1="191" x2="277" y2="233" stroke="#44444c" stroke-width="1" stroke-dasharray="7.9 3.9" stroke-dashoffset="0"/>
<line x1="504.5" y1="114.5" x2="627.5" y2="114.5" stroke="#44444c" stroke-width="1" stroke-dasharray="9.2 4.3" stroke-dashoffset="0.5"/>
<line x1="504.5" y1="414.5" x2="627.5" y2="414.5" stroke="#44444c" stroke-width="1" stroke-dasharray="8.3 5.6" stroke-dashoffset="-0.9"/>
<line x1="504.5" y1="114.5" x2="504.5" y2="414.5" stroke="#44444c" stroke-width="1" stroke-dasharray="9.2 5.1" stroke-dashoffset="0"/>
<line x1="627.5" y1="114.5" x2="627.5" y2="414.5" stroke="#44444c" stroke-width="1" stroke-dasharray="9.2 5.1" stroke-dashoffset="0"/>
<rect x="258.5" y="195.5" width="11" height="33.5" fill="none" stroke="#6a6a6a" stroke-width="0.8"/>
<text x="238.6" y="26.0" text-anchor="middle" class="lb">2</text>
<text x="324.4" y="59.1" text-anchor="middle" class="lb">11</text>
<text x="485.5" y="72.0" text-anchor="middle" class="lb">12</text>
<text x="682.0" y="100.8" text-anchor="middle" class="lb">19</text>
<text x="75.1" y="100.0" text-anchor="middle" class="lb">1</text>
<text x="682.0" y="130.4" text-anchor="middle" class="lb">20</text>
<text x="442.9" y="134.8" text-anchor="middle" class="lb">13</text>
<text x="61.7" y="144.8" text-anchor="middle" class="lb">3</text>
<text x="682.0" y="165.1" text-anchor="middle" class="lb">14</text>
<text x="61.7" y="174.2" text-anchor="middle" class="lb">5</text>
<text x="683.2" y="184.7" text-anchor="middle" class="lb">35</text>
<text x="61.9" y="200.0" text-anchor="middle" class="lb">4</text>
<text x="682.0" y="204.8" text-anchor="middle" class="lb">15</text>
<text x="62.5" y="229.6" text-anchor="middle" class="lb">6</text>
<text x="317.4" y="238.1" text-anchor="middle" class="lb">32</text>
<text x="451.8" y="238.8" text-anchor="middle" class="lb">18</text>
<text x="682.3" y="241.0" text-anchor="middle" class="lb">16</text>
<text x="313.1" y="283.8" text-anchor="middle" class="lb">37</text>
<text x="682.3" y="285.8" text-anchor="middle" class="lb">17</text>
<text x="475.0" y="288.5" text-anchor="middle" class="lb">36</text>
<text x="73.3" y="335.1" text-anchor="middle" class="lb">7</text>
<text x="331.7" y="436.5" text-anchor="middle" class="lb">38</text>
<text x="83.0" y="464.8" text-anchor="middle" class="lb">9</text>
<text x="142.4" y="464.8" text-anchor="middle" class="lb">10</text>
<text x="255.2" y="464.8" text-anchor="middle" class="lb">8</text>
<text x="399.3" y="462.8" text-anchor="middle" class="lb">33</text>
<text x="501.1" y="461.8" text-anchor="middle" class="lb">34</text>
<text x="570.3" y="460.8" text-anchor="middle" class="lb">20</text>
<text x="618.2" y="460.8" text-anchor="middle" class="lb">19</text>
<line x1="230.0" y1="30.0" x2="202.4" y2="57.7" stroke="#23252f" stroke-width="1.6"/>
<polygon points="195.6,64.6 200.7,53.4 202.4,57.7 206.8,59.5" fill="#23252f"/>
<line x1="323.6" y1="66.1" x2="302.6" y2="87.2" stroke="#23252f" stroke-width="1.6"/>
<polygon points="295.8,94.1 300.9,82.9 302.6,87.2 307.0,89.0" fill="#23252f"/>
<line x1="471.1" y1="70.6" x2="437.1" y2="86.0" stroke="#23252f" stroke-width="1.6"/>
<polygon points="428.3,90.0 437.0,81.3 437.1,86.0 440.5,89.2" fill="#23252f"/>
<line x1="664.9" y1="96.6" x2="587.2" y2="121.4" stroke="#23252f" stroke-width="1.6"/>
<polygon points="578.0,124.3 587.7,116.7 587.2,121.4 590.3,124.9" fill="#23252f"/>
<line x1="87.0" y1="97.0" x2="143.5" y2="97.0" stroke="#23252f" stroke-width="1.6"/>
<polygon points="153.2,97.0 141.7,101.3 143.5,97.0 141.7,92.7" fill="#23252f"/>
<line x1="664.9" y1="125.2" x2="580.9" y2="142.8" stroke="#23252f" stroke-width="1.6"/>
<polygon points="571.4,144.8 581.8,138.2 580.9,142.8 583.5,146.6" fill="#23252f"/>
<line x1="436.8" y1="143.8" x2="417.3" y2="171.7" stroke="#23252f" stroke-width="1.6"/>
<polygon points="411.8,179.7 414.8,167.8 417.3,171.7 421.9,172.7" fill="#23252f"/>
<line x1="72.3" y1="139.6" x2="102.6" y2="140.7" stroke="#23252f" stroke-width="1.6"/>
<polygon points="112.3,141.1 100.6,145.0 102.6,140.7 101.0,136.4" fill="#23252f"/>
<line x1="664.9" y1="161.4" x2="611.8" y2="161.4" stroke="#23252f" stroke-width="1.6"/>
<polygon points="602.1,161.4 613.6,157.1 611.8,161.4 613.6,165.7" fill="#23252f"/>
<line x1="73.0" y1="168.9" x2="168.0" y2="168.9" stroke="#23252f" stroke-width="1.6"/>
<polygon points="177.7,168.9 166.2,173.2 168.0,168.9 166.2,164.6" fill="#23252f"/>
<line x1="664.9" y1="180.4" x2="606.7" y2="180.4" stroke="#23252f" stroke-width="1.6"/>
<polygon points="597.0,180.4 608.5,176.1 606.7,180.4 608.5,184.7" fill="#23252f"/>
<line x1="73.9" y1="196.6" x2="133.4" y2="203.0" stroke="#23252f" stroke-width="1.6"/>
<polygon points="143.0,204.0 131.1,207.1 133.4,203.0 132.0,198.5" fill="#23252f"/>
<line x1="664.9" y1="199.1" x2="606.7" y2="199.1" stroke="#23252f" stroke-width="1.6"/>
<polygon points="597.0,199.1 608.5,194.8 606.7,199.1 608.5,203.4" fill="#23252f"/>
<line x1="75.2" y1="227.4" x2="102.5" y2="240.3" stroke="#23252f" stroke-width="1.6"/>
<polygon points="111.3,244.5 99.1,243.5 102.5,240.3 102.7,235.7" fill="#23252f"/>
<line x1="306.0" y1="227.9" x2="279.3" y2="218.5" stroke="#23252f" stroke-width="1.6"/>
<polygon points="270.2,215.3 282.5,215.1 279.3,218.5 279.6,223.2" fill="#23252f"/>
<line x1="446.0" y1="245.2" x2="422.9" y2="271.2" stroke="#23252f" stroke-width="1.6"/>
<polygon points="416.5,278.5 420.9,267.0 422.9,271.2 427.3,272.7" fill="#23252f"/>
<line x1="664.9" y1="235.2" x2="601.6" y2="236.5" stroke="#23252f" stroke-width="1.6"/>
<polygon points="591.9,236.7 603.3,232.2 601.6,236.5 603.5,240.8" fill="#23252f"/>
<line x1="303.0" y1="277.8" x2="275.7" y2="277.8" stroke="#23252f" stroke-width="1.6"/>
<polygon points="266.0,277.8 277.5,273.5 275.7,277.8 277.5,282.1" fill="#23252f"/>
<line x1="664.9" y1="280.4" x2="576.6" y2="280.9" stroke="#23252f" stroke-width="1.6"/>
<polygon points="566.9,281.0 578.4,276.6 576.6,280.9 578.4,285.2" fill="#23252f"/>
<line x1="475.5" y1="296.9" x2="475.5" y2="321.3" stroke="#23252f" stroke-width="1.6"/>
<polygon points="475.5,331.0 471.2,319.5 475.5,321.3 479.8,319.5" fill="#23252f"/>
<line x1="87.9" y1="330.3" x2="204.9" y2="330.3" stroke="#23252f" stroke-width="1.6"/>
<polygon points="214.6,330.3 203.1,334.6 204.9,330.3 203.1,326.0" fill="#23252f"/>
<line x1="320.9" y1="422.4" x2="301.9" y2="409.0" stroke="#23252f" stroke-width="1.6"/>
<polygon points="294.0,403.4 305.9,406.5 301.9,409.0 300.9,413.5" fill="#23252f"/>
<line x1="85.2" y1="443.5" x2="94.3" y2="423.4" stroke="#23252f" stroke-width="1.6"/>
<polygon points="98.3,414.6 97.5,426.8 94.3,423.4 89.6,423.3" fill="#23252f"/>
<line x1="138.4" y1="443.5" x2="135.2" y2="413.0" stroke="#23252f" stroke-width="1.6"/>
<polygon points="134.2,403.4 139.7,414.4 135.2,413.0 131.1,415.3" fill="#23252f"/>
<line x1="261.9" y1="448.4" x2="275.0" y2="438.6" stroke="#23252f" stroke-width="1.6"/>
<polygon points="282.8,432.8 276.2,443.1 275.0,438.6 271.0,436.2" fill="#23252f"/>
<line x1="396.6" y1="442.2" x2="382.1" y2="378.5" stroke="#23252f" stroke-width="1.6"/>
<polygon points="380.0,369.0 386.7,379.3 382.1,378.5 378.3,381.2" fill="#23252f"/>
<line x1="503.0" y1="443.4" x2="513.6" y2="423.4" stroke="#23252f" stroke-width="1.6"/>
<polygon points="518.2,414.8 516.6,427.0 513.6,423.4 509.0,422.9" fill="#23252f"/>
<line x1="570.3" y1="441.5" x2="590.1" y2="389.4" stroke="#23252f" stroke-width="1.6"/>
<polygon points="593.5,380.3 593.4,392.6 590.1,389.4 585.4,389.5" fill="#23252f"/>
<line x1="617.8" y1="441.5" x2="616.0" y2="398.1" stroke="#23252f" stroke-width="1.6"/>
<polygon points="615.6,388.4 620.4,399.7 616.0,398.1 611.8,400.1" fill="#23252f"/>
</svg>
</body></html>
